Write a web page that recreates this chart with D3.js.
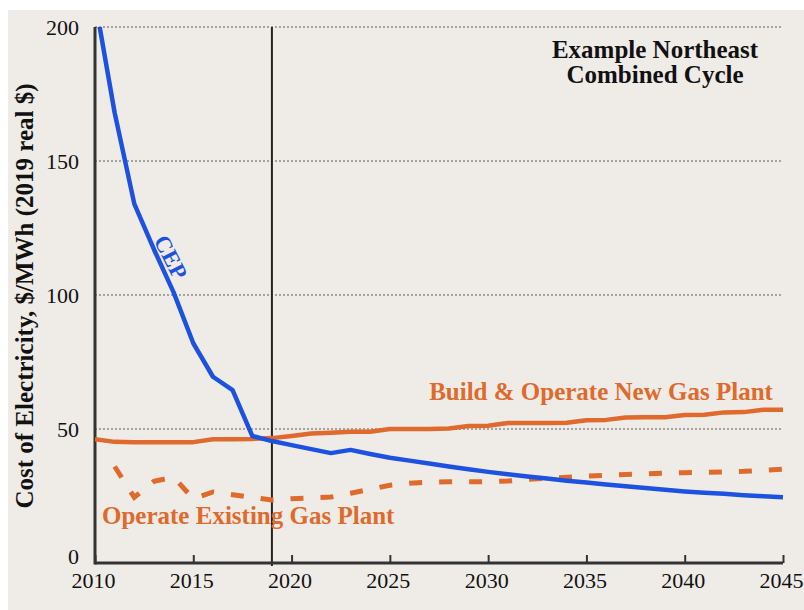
<!DOCTYPE html>
<html>
<head>
<meta charset="utf-8">
<script src="https://cdn.jsdelivr.net/npm/d3@7"></script>
<style>
  body { margin: 0; background: #ffffff; }
  svg { display: block; }
  text { font-family: "Liberation Serif", "Times New Roman", serif; }
</style>
</head>
<body>
<svg id="chart" width="804" height="610"></svg>
<script>
// values, $/MWh (2019 real $)
var years = d3.range(2010, 2046);

var cepValues = [210, 168, 134, 117, 101, 82, 69.5, 64.5, 47.4, 45.5,
    44, 42.5, 41, 42.2, 40.7, 39.3, 38.2, 37.1, 36, 35,
    34, 33.1, 32.3, 31.5, 30.7, 30, 29.3, 28.6, 28, 27.3,
    26.7, 26.2, 25.8, 25.3, 24.9, 24.5];

var newGasValues = [46.2, 45.2, 45.1, 45.1, 45.1, 45.1, 46.2, 46.2, 46.3, 46.6,
    47.4, 48.3, 48.6, 49, 49, 50, 50, 50, 50.2, 51.1,
    51.2, 52.2, 52.2, 52.2, 52.3, 53.3, 53.4, 54.3, 54.4, 54.4,
    55.2, 55.3, 56.2, 56.3, 57.2, 57.2];

// existing plant starts in 2011
var existingYears = d3.range(2011, 2046);
var existingValues = [36, 24.5, 30.5, 32, 24, 26.5, 25.5, 24.5, 23.5,
    24, 24.3, 24.6, 26, 27.5, 29, 29.8, 30.1, 30.3, 30.3,
    30.3, 30.6, 31.2, 31.6, 32, 32.4, 32.7, 33, 33.3, 33.5,
    33.7, 33.8, 34, 34.2, 34.6, 35];

var yTicks = [0, 50, 100, 150, 200];
var xTicks = [2010, 2015, 2020, 2025, 2030, 2035, 2040, 2045];
var markerYear = 2019;

var blue = "#1d52e0";
var orange = "#df6a2b";

var svg = d3.select("#chart");

// beige panel
svg.append("rect")
    .attr("x", 8).attr("y", 10)
    .attr("width", 796).attr("height", 600)
    .attr("fill", "#efece7");

var plotLeft = 95, plotRight = 783, plotTop = 27, plotBottom = 563;

var x = d3.scaleLinear().domain([2010, 2045]).range([plotLeft, plotRight]);
var y = d3.scaleLinear().domain([0, 200]).range([plotBottom, plotTop]);

// dotted grid
svg.append("g").selectAll("line")
    .data(yTicks.filter(function(t){ return t > 0; }))
    .enter().append("line")
    .attr("x1", plotLeft).attr("x2", plotRight)
    .attr("y1", function(d){ return y(d); })
    .attr("y2", function(d){ return y(d); })
    .attr("stroke", "#8a8a8a")
    .attr("stroke-width", 1.5)
    .attr("stroke-dasharray", "2,2");

// 2019 marker
svg.append("line")
    .attr("x1", x(markerYear)).attr("x2", x(markerYear))
    .attr("y1", plotTop).attr("y2", plotBottom + 3)
    .attr("stroke", "#222").attr("stroke-width", 2);

// axes
var xAxis = svg.append("g")
    .attr("transform", "translate(0," + plotBottom + ")")
    .call(d3.axisBottom(x).tickValues(xTicks).tickFormat(d3.format("d"))
        .tickSize(-8).tickPadding(9));
xAxis.select(".domain").attr("stroke", "#333").attr("stroke-width", 3)
    .attr("d", "M" + plotLeft + ",0H" + plotRight);
xAxis.selectAll(".tick line").attr("stroke", "#333").attr("stroke-width", 2);
xAxis.selectAll("text").attr("font-size", 22).attr("fill", "#111")
    .attr("font-family", "Liberation Serif").attr("dx", -2);

var yAxis = svg.append("g")
    .attr("transform", "translate(" + plotLeft + ",0)")
    .call(d3.axisLeft(y).tickValues(yTicks).tickSize(0).tickPadding(16));
yAxis.select(".domain").attr("stroke", "#333").attr("stroke-width", 3)
    .attr("d", "M0," + plotTop + "V" + (plotBottom + 1.5));
yAxis.selectAll("text").attr("font-size", 22).attr("fill", "#111")
    .attr("font-family", "Liberation Serif");
yAxis.selectAll(".tick").filter(function(d){ return d === 0; })
    .select("text").attr("dy", "0em");

// clip lines to the plot
svg.append("clipPath").attr("id", "plotclip")
    .append("rect").attr("x", plotLeft).attr("y", plotTop)
    .attr("width", plotRight - plotLeft + 5).attr("height", plotBottom - plotTop);

var line = d3.line()
    .x(function(d){ return x(d[0]); })
    .y(function(d){ return y(d[1]); });

var lines = svg.append("g").attr("clip-path", "url(#plotclip)");

lines.append("path")
    .datum(d3.zip(existingYears, existingValues))
    .attr("d", line)
    .attr("fill", "none").attr("stroke", orange)
    .attr("stroke-width", 5).attr("stroke-dasharray", "13,17");

lines.append("path")
    .datum(d3.zip(years, newGasValues))
    .attr("d", line)
    .attr("fill", "none").attr("stroke", orange)
    .attr("stroke-width", 4.5).attr("stroke-linejoin", "round");

lines.append("path")
    .datum(d3.zip(years, cepValues))
    .attr("d", line)
    .attr("fill", "none").attr("stroke", blue)
    .attr("stroke-width", 4.5).attr("stroke-linejoin", "round");

// labels
svg.append("text")
    .attr("transform", "translate(24,296) rotate(-90)")
    .attr("text-anchor", "middle").attr("dy", "0.35em")
    .attr("font-size", 25).attr("font-weight", "bold").attr("fill", "#111")
    .text("Cost of Electricity, $/MWh (2019 real $)");

var title = svg.append("text")
    .attr("text-anchor", "middle")
    .attr("font-size", 25).attr("font-weight", "bold").attr("fill", "#111");
title.append("tspan").attr("x", 655).attr("y", 58).text("Example Northeast");
title.append("tspan").attr("x", 655).attr("y", 83).text("Combined Cycle");

svg.append("text")
    .attr("transform", "translate(171,257) rotate(63)")
    .attr("text-anchor", "middle").attr("dy", "0.35em")
    .attr("font-size", 23).attr("font-weight", "bold").attr("fill", blue)
    .text("CEP");

svg.append("text")
    .attr("x", 601).attr("y", 400)
    .attr("text-anchor", "middle")
    .attr("font-size", 25).attr("font-weight", "bold").attr("fill", orange)
    .text("Build & Operate New Gas Plant");

svg.append("text")
    .attr("x", 102).attr("y", 524)
    .attr("font-size", 25).attr("font-weight", "bold").attr("fill", orange)
    .text("Operate Existing Gas Plant");
</script>
</body>
</html>
